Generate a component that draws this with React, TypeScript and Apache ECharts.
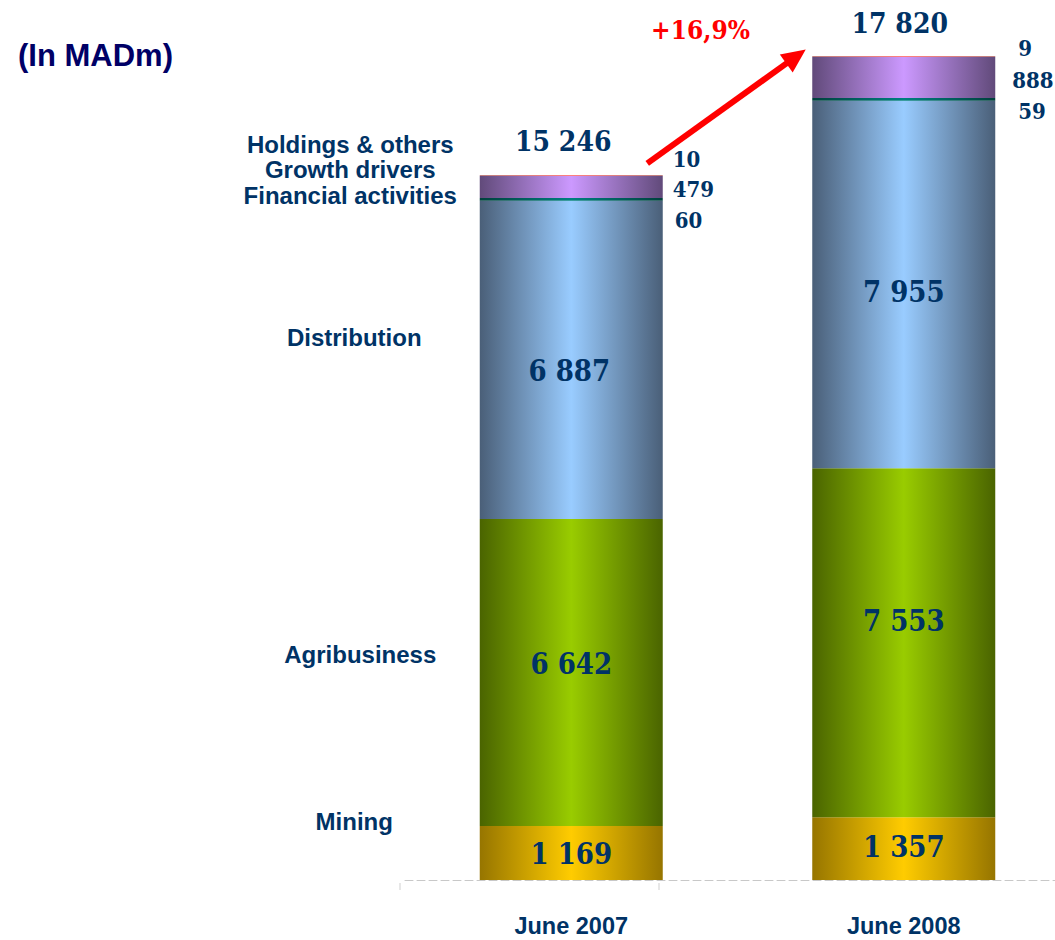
import React, { useEffect, useRef } from "react";
import * as echarts from "echarts";

// ---------- data ----------
const categories = ["June 2007", "June 2008"];
const mining = [1169, 1357];
const agribusiness = [6642, 7553];
const distribution = [6887, 7955];
const financialActivities = [60, 59];
const growthDrivers = [479, 888];
const holdingsOthers = [10, 9];
const totals = [15246, 17820];
const growthText = "+16,9%";
const unitText = "(In MADm)";

// ---------- styles ----------
const NAVY = "#003366";
const SERIF = '"DejaVu Serif Condensed", "DejaVu Serif", serif';
const SANS = '"Liberation Sans", Arial, sans-serif';

const fmt = (v: number) => String(v).replace(/\B(?=(\d{3})+(?!\d))/g, " ");

type Seg = {
  name: string;
  data: number[];
  edge: string;
  center: string;
  inside: boolean;
  valueOffsets: number[][];
  nameOffset: number[];
};

const segments: Seg[] = [
  { name: "Mining", data: mining, edge: "#967500", center: "#ffcc00", inside: true, valueOffsets: [[0, 1], [0, -2]], nameOffset: [-217, -31] },
  { name: "Agribusiness", data: agribusiness, edge: "#4a6400", center: "#99cc00", inside: true, valueOffsets: [[0, -9], [0, -22]], nameOffset: [-211, -18] },
  { name: "Distribution", data: distribution, edge: "#4a5f78", center: "#99ccff", inside: true, valueOffsets: [[-2, 11], [0, 8]], nameOffset: [-217, -22] },
  { name: "Financial activities", data: financialActivities, edge: "#00403c", center: "#008080", inside: false, valueOffsets: [[0, 21], [11, 12]], nameOffset: [-221, -4] },
  { name: "Growth drivers", data: growthDrivers, edge: "#614a7a", center: "#cc99ff", inside: false, valueOffsets: [[-2, 2], [5, 3]], nameOffset: [-221, -17] },
  { name: "Holdings & others", data: holdingsOthers, edge: "#7a0000", center: "#ff0000", inside: false, valueOffsets: [[-2, -17], [11, -9]], nameOffset: [-221, -31] },
];
const totalOffsets = [[-8, 1], [-4, 2]];

const grad = (edge: string, center: string) =>
  new echarts.graphic.LinearGradient(0, 0, 1, 0, [
    { offset: 0, color: edge },
    { offset: 0.5, color: center },
    { offset: 1, color: edge },
  ]);

function buildOption() {
  const series: any[] = [];
  let base0 = 0;
  segments.forEach((seg) => {
    const mid0 = base0 + seg.data[0] / 2;
    base0 += seg.data[0];
    series.push({
      name: seg.name,
      type: "bar",
      stack: "total",
      barWidth: 183,
      silent: true,
      itemStyle: { color: grad(seg.edge, seg.center) },
      label: seg.inside
        ? {
            show: true,
            position: "inside",
            formatter: (p: any) => fmt(p.value),
            fontFamily: SERIF,
            fontSize: 29,
            fontWeight: "bold",
            color: NAVY,
          }
        : {
            show: true,
            position: "right",
            distance: 12,
            formatter: (p: any) => fmt(p.value),
            fontFamily: SERIF,
            fontSize: 22,
            fontWeight: "bold",
            color: NAVY,
          },
      data: seg.data.map((v, i) => ({ value: v, label: { offset: seg.valueOffsets[i] } })),
      markPoint: {
        silent: true,
        symbol: "circle",
        symbolSize: 1,
        itemStyle: { color: "rgba(0,0,0,0)" },
        label: {
          show: true,
          position: "inside",
          formatter: seg.name,
          fontFamily: SANS,
          fontSize: 24,
          fontWeight: "bold",
          color: NAVY,
          offset: seg.nameOffset,
        },
        data: [{ coord: [categories[0], mid0] }],
      },
    });
  });
  series.push({
    name: "Total",
    type: "bar",
    stack: "total",
    barWidth: 183,
    silent: true,
    itemStyle: { color: "rgba(0,0,0,0)" },
    label: {
      show: true,
      position: "top",
      distance: 20,
      formatter: (p: any) => fmt(totals[p.dataIndex]),
      fontFamily: SERIF,
      fontSize: 28,
      fontWeight: "bold",
      color: NAVY,
      lineHeight: 30,
    },
    data: totals.map((_, i) => ({ value: 0, label: { offset: totalOffsets[i] } })),
  });

  return {
    animation: false,
    backgroundColor: "#ffffff",
    grid: { left: 405, right: 0, top: 2, bottom: 60 },
    xAxis: {
      type: "category",
      data: categories,
      axisLine: { show: true, lineStyle: { color: "#c8c8c8", type: [8, 4], width: 1 } },
      axisTick: { show: false },
      axisLabel: {
        margin: 34,
        fontFamily: SANS,
        fontSize: 23.5,
        fontWeight: "bold",
        color: NAVY,
      },
    },
    yAxis: { type: "value", min: 0, max: 19000, show: false },
    series,
  };
}

export default function App() {
  const ref = useRef<HTMLDivElement>(null);
  useEffect(() => {
    if (!ref.current) return;
    const chart = echarts.init(ref.current, null, { renderer: "svg" });
    chart.setOption(buildOption() as any);

    const sum = (i: number) => segments.reduce((s, seg) => s + seg.data[i], 0);
    const t1 = chart.convertToPixel({ gridIndex: 0 }, [0, sum(0)]) as number[];
    const t2 = chart.convertToPixel({ gridIndex: 0 }, [1, sum(1)]) as number[];
    const tail = [t1[0] + 76, t1[1] - 12];
    const tip = [t2[0] - 98, t2[1] - 7];
    const dx = tip[0] - tail[0];
    const dy = tip[1] - tail[1];
    const len = Math.sqrt(dx * dx + dy * dy);
    const ux = dx / len;
    const uy = dy / len;
    const headLen = 24;
    const headHalf = 11;
    const bx = tip[0] - ux * headLen;
    const by = tip[1] - uy * headLen;
    const nx = -uy;
    const ny = ux;

    chart.setOption({
      graphic: [
        {
          type: "text",
          left: 18,
          top: 40,
          silent: true,
          style: {
            text: unitText,
            font: 'bold 31px "Liberation Sans", Arial, sans-serif',
            fill: "#000066",
          },
        },
        {
          type: "line",
          silent: true,
          shape: { x1: tail[0], y1: tail[1], x2: bx + ux * 2, y2: by + uy * 2 },
          style: { stroke: "#ff0000", lineWidth: 6 },
        },
        {
          type: "polygon",
          silent: true,
          shape: {
            points: [
              [tip[0], tip[1]],
              [bx + nx * headHalf, by + ny * headHalf],
              [bx - nx * headHalf, by - ny * headHalf],
            ],
          },
          style: { fill: "#ff0000" },
        },
        {
          type: "text",
          x: (tail[0] + tip[0]) / 2 - 26,
          y: tip[1] - 19,
          silent: true,
          style: {
            text: growthText,
            font: 'bold 26px "DejaVu Serif Condensed", "DejaVu Serif", serif',
            fill: "#ff0000",
            align: "center",
            verticalAlign: "middle",
            textAlign: "center",
            textVerticalAlign: "middle",
          },
        },
        {
          type: "line",
          silent: true,
          shape: { x1: 400, y1: 883, x2: 400, y2: 890 },
          style: { stroke: "#cfcfcf", lineWidth: 1 },
        },
        {
          type: "line",
          silent: true,
          shape: { x1: 659, y1: 883, x2: 659, y2: 890 },
          style: { stroke: "#cfcfcf", lineWidth: 1 },
        },
      ],
    } as any);

    return () => chart.dispose();
  }, []);

  return (
    <div style={{ position: "absolute", left: 0, top: 0, width: 1055, height: 940, overflow: "hidden" }}>
      <div ref={ref} style={{ width: 1070, height: 940 }} />
    </div>
  );
}
